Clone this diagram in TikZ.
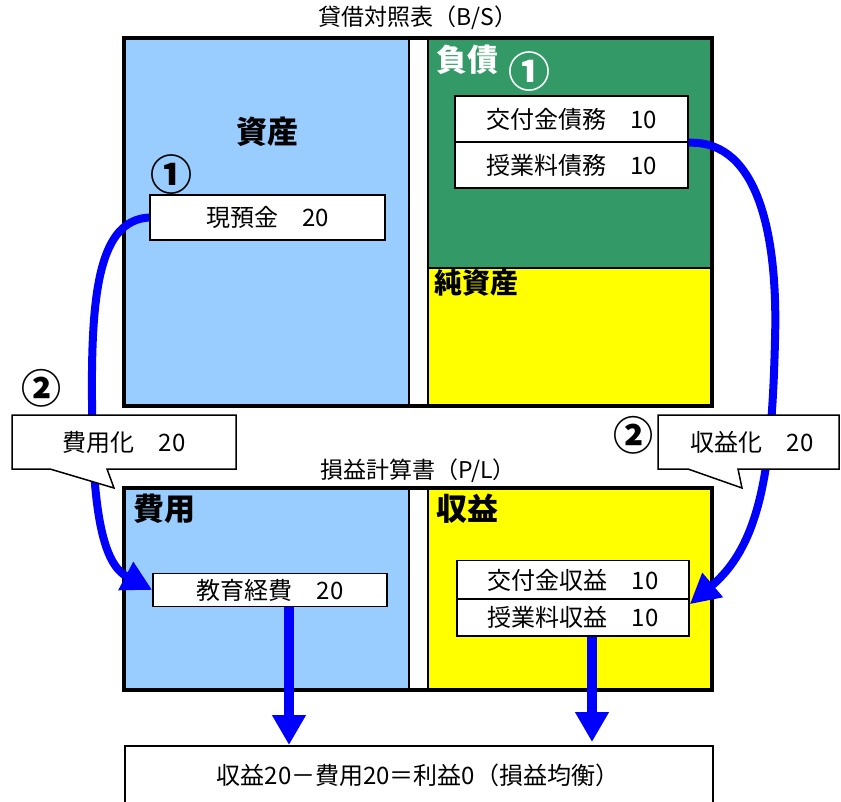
\documentclass[tikz,border=0pt]{standalone}
\usepackage{fontspec}
\setmainfont{Noto Sans CJK JP}
\usetikzlibrary{arrows.meta}
\definecolor{bsblue}{HTML}{99CCFF}
\definecolor{bsgreen}{HTML}{339966}
\definecolor{bsyellow}{HTML}{FFFF00}
\definecolor{arrblue}{HTML}{0000FF}
\begin{document}
\begin{tikzpicture}[x=1pt,y=-1pt,
  item/.style={draw=black, line width=1.5pt, fill=white, inner sep=0pt,
    font=\fontsize{24}{26}\selectfont},
  heading/.style={font=\fontsize{31}{33}\selectfont\bfseries, inner sep=0pt},
  title/.style={font=\fontsize{23}{25}\selectfont, inner sep=0pt},
  circnum/.style={font=\fontsize{42}{44}\selectfont\bfseries, inner sep=0pt},
  frame/.style={draw=black, line width=4pt},
  divider/.style={draw=black, line width=1.5pt},
  curvearrow/.style={draw=arrblue, line width=8pt, -{Triangle[width=30pt,length=30pt]}},
  downarrow/.style={draw=arrblue, line width=10pt, -{Triangle[width=32pt,length=30pt]}},
  callout/.style={draw=black, line width=1.5pt, fill=white},
  calltext/.style={font=\fontsize{24}{26}\selectfont, inner sep=0pt}]
\useasboundingbox (0,0) rectangle (841,801);

% ---------- Balance sheet ----------
\node[title] (bstitle) at (418,18) {貸借対照表（B/S）};
\fill[bsblue] (124,38) rectangle (409,406);
\fill[bsgreen] (428,38) rectangle (712,268);
\fill[bsyellow] (428,268) rectangle (712,406);
\draw[divider] (409,38) -- (409,406);
\draw[divider] (428,38) -- (428,406);
\draw[divider] (428,268) -- (712,268);
\draw[frame] (124,38) rectangle (712,406);

\node[heading] (assets) at (267,132) {資産};
\node[circnum] (c1a) at (171,175) {①};
\node[item, minimum width=235pt, minimum height=45pt] (cash) at (267.5,217.5) {現預金　20};

\node[heading, text=white] (liab) at (467,60) {負債};
\node[circnum, text=white] (c1b) at (529,72) {①};
\node[item, minimum width=233pt, minimum height=46pt] (lia1) at (571.5,119) {交付金債務　10};
\node[item, minimum width=233pt, minimum height=46pt] (lia2) at (571.5,165) {授業料債務　10};

\node[heading, font=\fontsize{28}{30}\selectfont\bfseries] (equity) at (476,283) {純資産};

% ---------- P/L ----------
\node[title] (pltitle) at (418,471) {損益計算書（P/L）};
\fill[bsblue] (124,488) rectangle (409,690);
\fill[bsyellow] (428,488) rectangle (712,690);
\draw[divider] (409,488) -- (409,690);
\draw[divider] (428,488) -- (428,690);
\draw[frame] (124,488) rectangle (712,690);

\node[heading] (exp) at (164,509) {費用};
\node[heading] (rev) at (467,509) {収益};
\node[item, minimum width=234pt, minimum height=33pt] (edu) at (270,590) {教育経費　20};
\node[item, minimum width=232pt, minimum height=39pt] (rev1) at (573,580) {交付金収益　10};
\node[item, minimum width=232pt, minimum height=37pt] (rev2) at (573,617.5) {授業料収益　10};

% ---------- result ----------
\node[draw=black, line width=1.5pt, fill=white, minimum width=588pt, minimum height=70pt,
  anchor=north west, inner sep=0pt] (result) at (124,745) {};
\node[calltext] (restext) at (418,775) {収益20－費用20＝利益0（損益均衡）};

% ---------- curved arrows ----------
\draw[curvearrow] (cash.west) .. controls (100,220) and (91,290) .. (92,400)
  .. controls (92,520) and (105,565) .. (edu.west);
\draw[curvearrow] (lia1.south east) .. controls (760,140) and (778,240) .. (775,340)
  .. controls (772,470) and (760,545) .. ([yshift=-4pt]rev1.south east);

% ---------- callouts ----------
\draw[callout] (12,415) -- (236,415) -- (236,469) -- (107,469) -- (114,488) -- (50,469) -- (12,469) -- cycle;
\node[calltext] (calloutL) at (124,442) {費用化　20};
\node[circnum, font=\fontsize{40}{42}\selectfont\bfseries] (c2a) at (41,388) {②};

\draw[callout] (658,415) -- (839,415) -- (839,469) -- (738,469) -- (742,488) -- (688,469) -- (658,469) -- cycle;
\node[calltext] (calloutR) at (752,442) {収益化　20};
\node[circnum, font=\fontsize{40}{42}\selectfont\bfseries] (c2b) at (633,435) {②};

% ---------- down arrows ----------
\draw[downarrow] ([xshift=19pt]edu.south) -- ([xshift=19pt]edu.south |- result.north);
\draw[downarrow] ([xshift=19pt]rev2.south) -- ([xshift=19pt,yshift=3pt]rev2.south |- result.north);
\end{tikzpicture}
\end{document}
